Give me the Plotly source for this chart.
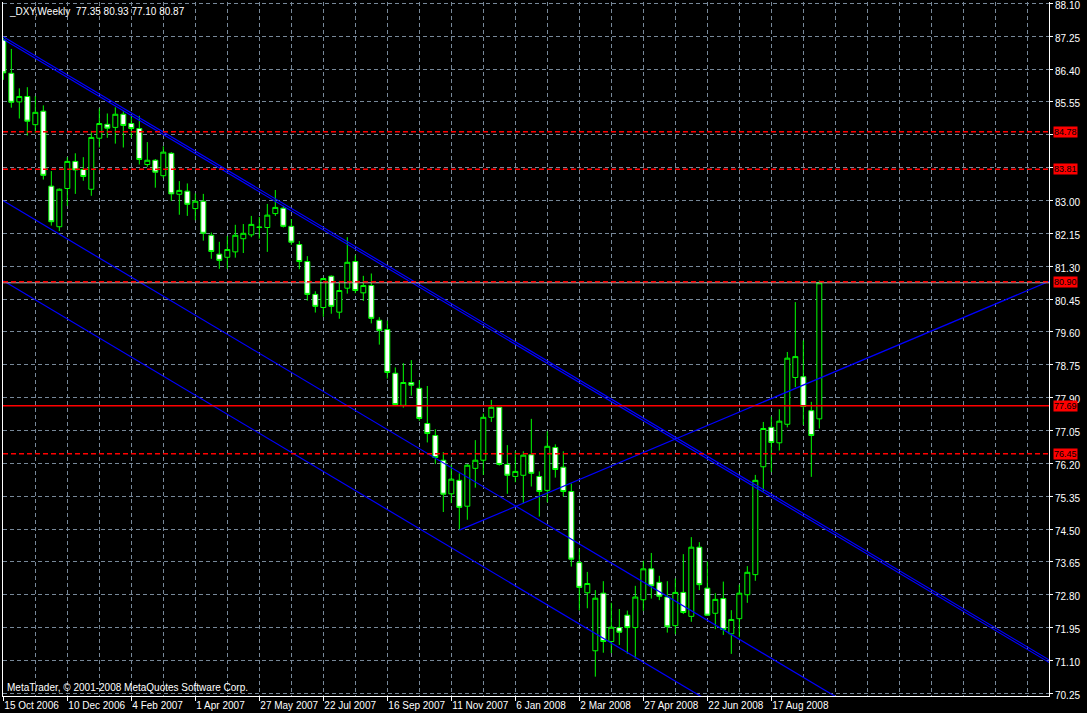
import plotly.graph_objects as go

# ---------------- data ----------------
opens = [87.15, 86.29, 85.55, 85.69, 84.96, 85.31, 83.37, 82.32, 83.31, 84.01,
         83.80, 83.29, 84.61, 84.97, 84.89, 85.23, 84.99, 84.86, 83.93, 84.04,
         83.64, 84.22, 83.16, 83.24, 82.79, 82.98, 82.10, 81.61, 81.53, 81.67,
         82.01, 82.11, 82.30, 82.30, 82.66, 82.80, 82.33, 81.86, 81.42, 80.57,
         80.23, 81.04, 80.11, 80.73, 81.42, 80.61, 80.80, 79.90, 79.66, 78.53,
         77.70, 78.29, 78.14, 77.23, 76.92, 76.28, 75.41, 75.76, 75.09, 76.07,
         76.28, 77.39, 77.65, 76.17, 75.86, 75.89, 76.42, 75.86, 75.50, 76.61,
         76.10, 75.47, 73.63, 72.85, 71.35, 72.84, 71.59, 71.95, 72.27, 71.95,
         72.67, 73.47, 73.12, 72.74, 72.00, 72.86, 72.24, 74.03, 72.97, 72.32,
         72.70, 71.79, 72.18, 72.80, 73.32, 76.11, 77.13, 76.73, 77.21, 78.42,
         78.44, 77.56, 77.35]
highs = [87.20, 86.92, 85.90, 85.93, 85.70, 85.46, 83.76, 83.31, 84.12, 84.22,
         84.12, 84.80, 85.38, 85.25, 85.41, 85.31, 85.19, 85.19, 84.51, 84.07,
         84.40, 84.25, 83.50, 83.44, 83.18, 83.17, 82.17, 81.93, 82.08, 82.37,
         82.39, 82.60, 82.57, 82.91, 83.27, 82.86, 82.52, 81.95, 81.56, 80.65,
         81.00, 81.06, 80.92, 82.05, 81.58, 81.05, 81.11, 79.98, 79.89, 78.68,
         78.79, 78.87, 78.35, 78.20, 77.08, 76.49, 76.16, 75.94, 76.18, 76.80,
         77.49, 77.84, 77.66, 76.67, 76.51, 76.51, 77.35, 75.99, 77.03, 76.69,
         76.51, 75.68, 73.99, 73.39, 72.92, 73.15, 72.59, 72.43, 72.39, 73.03,
         73.68, 73.88, 73.29, 73.15, 73.22, 73.85, 74.29, 74.16, 73.66, 72.84,
         73.14, 72.40, 73.06, 73.54, 75.90, 77.27, 77.41, 77.60, 79.08, 80.37,
         79.38, 77.79, 80.93]
lows = [86.12, 85.40, 85.12, 84.68, 84.74, 83.54, 82.35, 82.21, 82.86, 83.17,
        83.51, 83.12, 84.37, 84.62, 84.47, 84.37, 84.62, 83.93, 83.87, 83.33,
        83.58, 82.99, 82.63, 82.60, 82.49, 81.96, 81.49, 81.23, 81.23, 81.52,
        81.64, 82.05, 82.01, 81.67, 82.60, 82.30, 81.85, 81.22, 80.41, 80.10,
        79.99, 80.07, 79.94, 80.59, 80.60, 80.40, 79.82, 79.27, 78.39, 77.68,
        77.64, 77.95, 77.30, 76.74, 76.18, 74.94, 75.17, 74.47, 74.74, 75.57,
        75.90, 77.27, 76.14, 75.41, 75.71, 75.17, 75.60, 74.82, 75.19, 75.83,
        75.34, 73.53, 72.39, 72.45, 70.68, 71.30, 71.29, 71.50, 71.27, 71.15,
        72.38, 72.70, 72.66, 71.82, 71.78, 72.30, 72.10, 72.92, 72.26, 71.91,
        71.76, 71.27, 71.70, 72.59, 73.16, 75.47, 75.97, 76.53, 77.13, 78.17,
        77.19, 75.85, 77.10]
closes = [86.30, 85.54, 85.69, 85.05, 85.28, 83.65, 82.45, 83.29, 84.01, 83.79,
          83.62, 84.63, 84.99, 84.87, 85.23, 84.94, 84.86, 84.06, 84.04, 83.73,
          84.25, 83.17, 83.26, 82.90, 82.98, 82.15, 81.68, 81.45, 81.73, 82.10,
          82.15, 82.38, 82.31, 82.62, 82.82, 82.33, 81.92, 81.42, 80.57, 80.26,
          80.98, 80.26, 80.67, 81.40, 80.67, 80.80, 79.95, 79.64, 78.55, 77.72,
          78.29, 78.22, 77.36, 76.97, 76.35, 75.40, 75.79, 75.06, 76.15, 76.28,
          77.39, 77.65, 76.17, 75.89, 75.99, 76.41, 75.94, 75.47, 76.64, 76.04,
          75.47, 73.72, 72.99, 73.09, 72.71, 71.59, 71.96, 71.83, 71.95, 72.74,
          73.47, 73.03, 72.76, 71.97, 72.86, 72.34, 74.03, 73.06, 72.27, 72.68,
          71.90, 72.16, 72.84, 73.38, 75.76, 77.10, 76.74, 77.29, 78.92, 78.96,
          77.67, 76.92, 80.87]

# time-axis labels, one every 8 weekly bars starting at bar 0
tick_labels = ["15 Oct 2006", "10 Dec 2006", "4 Feb 2007", "1 Apr 2007",
               "27 May 2007", "22 Jul 2007", "16 Sep 2007", "11 Nov 2007",
               "6 Jan 2008", "2 Mar 2008", "27 Apr 2008", "22 Jun 2008",
               "17 Aug 2008"]

# price scale ticks
y_ticks = [70.25, 71.10, 71.95, 72.80, 73.65, 74.50, 75.35, 76.20, 77.05, 77.90,
           78.75, 79.60, 80.45, 81.30, 82.15, 83.00, 83.85, 84.70, 85.55, 86.40,
           87.25, 88.10]
y_hidden = [83.85, 84.70]   # covered by the level labels in the original

# horizontal levels (price, solid?)
level_prices = [84.78, 83.81, 80.90, 77.69, 76.45]
level_solid = [False, False, False, True, False]
bid_price = 80.87

# trendlines: (bar_start, price_start, bar_end, price_end)
trend_upper_a = [0, 87.236, 131, 71.08]
trend_upper_b = [0, 87.171, 131, 71.015]
trend_mid = [0, 82.99, 131, 66.84]
trend_low = [0, 80.92, 131, 64.77]
trend_rise = [57, 74.47, 131, 80.93]

# ---------------- figure ----------------
bars = list(range(len(opens)))
GREEN = "#00FF00"
GRID = "#778899"
FONT = "Liberation Sans, Arial"

fig = go.Figure()
fig.add_trace(go.Candlestick(
    x=bars, open=opens, high=highs, low=lows, close=closes,
    increasing=dict(line=dict(color=GREEN, width=1), fillcolor="#000000"),
    decreasing=dict(line=dict(color=GREEN, width=1), fillcolor="#FFFFFF"),
    whiskerwidth=0, showlegend=False, hoverinfo="skip"))

for tl in [trend_upper_a, trend_upper_b, trend_mid, trend_low, trend_rise]:
    fig.add_trace(go.Scatter(x=[tl[0], tl[2]], y=[tl[1], tl[3]], mode="lines",
                             line=dict(color="#0000FF", width=1.2),
                             showlegend=False, hoverinfo="skip"))

shapes = [dict(type="line", xref="paper", x0=0, x1=1, yref="y", y0=bid_price, y1=bid_price,
               line=dict(color="#C0C0C0", width=1), layer="above")]
for p, solid in zip(level_prices, level_solid):
    shapes.append(dict(type="line", xref="paper", x0=0, x1=1, yref="y", y0=p, y1=p,
                       line=dict(color="#FF0000", width=1.5,
                                 dash="solid" if solid else "5px,3px"),
                       layer="above"))

annotations = []
for p in level_prices:
    annotations.append(dict(xref="paper", x=1, xanchor="left", xshift=4,
                            yref="y", y=p, yanchor="middle", text=f"{p:.2f}",
                            showarrow=False, bgcolor="#FF0000", borderpad=0,
                            font=dict(family=FONT, size=9, color="#000000")))
annotations.append(dict(xref="paper", yref="paper", x=0, y=1, xanchor="left", yanchor="top",
                        xshift=4, yshift=-2,
                        text="_DXY,Weekly  77.35 80.93 77.10 80.87", showarrow=False,
                        font=dict(family=FONT, size=10, color="#FFFFFF")))
annotations.append(dict(xref="paper", yref="paper", x=0, y=0, xanchor="left", yanchor="bottom",
                        xshift=2, yshift=1,
                        text="MetaTrader, © 2001-2008 MetaQuotes Software Corp.", showarrow=False,
                        font=dict(family=FONT, size=10, color="#FFFFFF")))

fig.update_layout(
    width=1087, height=713,
    margin=dict(l=3, r=38, t=2, b=17, autoexpand=False),
    paper_bgcolor="#000000", plot_bgcolor="#000000",
    boxgap=0.35, boxgroupgap=0.05,
    shapes=shapes, annotations=annotations,
    font=dict(family=FONT, size=10, color="#FFFFFF"),
    xaxis=dict(range=[-0.04, 130.71], rangeslider=dict(visible=False),
               tickmode="array", tickvals=[8 * k for k in range(len(tick_labels))],
               ticktext=tick_labels, ticks="outside", ticklen=4, tickcolor="#FFFFFF",
               ticklabelposition="outside right", tickangle=0, automargin=False,
               showgrid=True, gridcolor=GRID, griddash="4px,3px", gridwidth=1,
               minor=dict(tick0=0, dtick=4, showgrid=True, gridcolor=GRID,
                          griddash="4px,3px", gridwidth=1),
               showline=True, linecolor="#FFFFFF", linewidth=1, zeroline=False,
               tickfont=dict(color="#FFFFFF", size=10)),
    yaxis=dict(range=[70.18, 88.134], side="right", tickmode="array",
               tickvals=y_ticks, automargin=False,
               ticktext=["" if v in y_hidden else f"{v:.2f}" for v in y_ticks],
               ticks="outside", ticklen=3, tickcolor="#FFFFFF",
               ticklabeloverflow="allow", ticklabelshift=2,
               showgrid=True, gridcolor=GRID, griddash="4px,3px", gridwidth=1,
               showline=True, mirror=True, linecolor="#FFFFFF", linewidth=1,
               zeroline=False, tickfont=dict(color="#FFFFFF", size=10)),
)

fig.write_html("out.html", config={"displayModeBar": False},
               post_script="document.body.style.margin='0';")
